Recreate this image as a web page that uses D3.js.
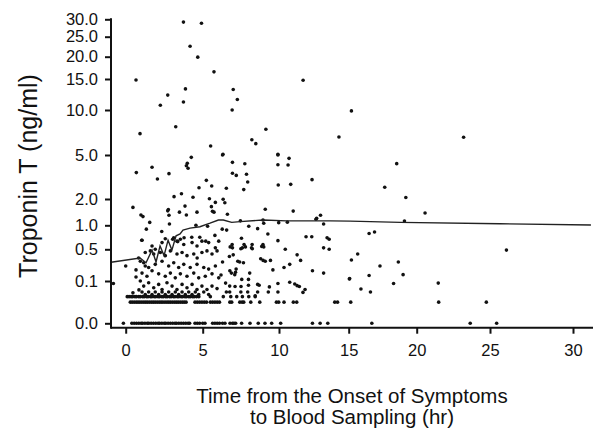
<!DOCTYPE html>
<html>
<head>
<meta charset="utf-8">
<script src="https://cdn.jsdelivr.net/npm/d3@7/dist/d3.min.js"></script>
<style>
  body { margin: 0; background: #fff; }
  svg { display: block; font-family: "Liberation Sans", Arial, Helvetica, sans-serif; }
  .tick text { font-size: 16.5px; fill: #111; }
  .tick line { stroke: #111; stroke-width: 2; }
  .axis-title { font-size: 20.5px; fill: #111; }
</style>
</head>
<body>
<div id="chart"></div>
<script>
// tick labels
var xTicks = [0, 5, 10, 15, 20, 25, 30];
var yTicks = [0, 0.1, 0.5, 1, 2, 5, 10, 15, 20, 25, 30];

// smoothed troponin curve: hours, ng/ml
var curveHours = [-0.95, 0.93, 1.32, 1.71, 1.97, 2.23, 2.49, 2.75, 3.0, 3.27, 3.53, 3.72, 4.18, 4.82, 5.48, 6.03, 6.35, 6.9, 7.45, 8.97, 10.55, 12.71, 13.7, 15.1, 18.8, 25.6, 31.08];
var curveTrop  = [0.336, 0.39, 0.33, 0.49, 0.34, 0.57, 0.42, 0.69, 0.49, 0.78, 0.82, 0.9, 0.94, 0.97, 1.08, 1.2, 1.2, 1.11, 1.14, 1.2, 1.17, 1.17, 1.17, 1.16, 1.11, 1.06, 1.01];

// scattered patients [hours, ng/ml]
var highPoints = [
  [3.75,29.2],[4.92,28.85],[4.18,22.6],[4.68,19.9],[5.74,16.6],[0.67,14.84],[11.73,14.8],[3.88,13.4],
  [7.0,13.3],[2.73,12.4],[7.27,11.7],[3.75,11.3],[2.25,10.76],[6.93,10.0],[15.2,9.9],[3.25,8.14],
  [0.93,7.37],[9.14,7.86],[14.3,7.0],[8.22,6.7],[8.48,6.26],[5.52,6.0],[6.33,5.08],[9.93,5.08],[23.2,6.97]
];
var midPoints = [
  [4.26,4.84],[4.0,4.43],[3.94,4.27],[4.05,4.1],[6.3,5.0],[6.95,4.5],[6.95,3.76],[1.71,4.16],[0.69,3.8],
  [2.06,3.36],[2.81,3.73],[5.24,3.27],[5.59,2.89],[4.76,2.77],[6.55,2.73],[3.62,2.36],[3.14,2.16],
  [4.37,2.12],[5.44,2.02],[5.83,1.87],[6.34,1.99],[6.45,1.86],[3.85,1.73],[5.57,1.71],[2.77,1.6],
  [2.73,1.55],[3.49,1.5],[4.63,1.5],[5.64,1.53],[5.74,1.5],[3.94,1.39],[6.62,1.42],[0.47,1.68],
  [0.99,1.39],[1.12,1.33],[1.56,1.11],[2.81,1.38],[2.84,1.05],[4.56,1.0],[5.32,0.98],
  [9.93,5.0],[10.72,4.77],[9.93,4.34],[10.65,4.32],[7.76,4.4],[7.2,3.61],[7.87,3.69],[7.95,3.16],
  [7.69,2.64],[9.95,2.95],[10.84,3.0],[12.37,3.32],[9.1,1.61],[11.02,1.54],[12.98,1.38],[12.7,1.27],
  [12.65,1.23],[13.2,1.05],[7.47,1.17],[8.95,1.2],[9.0,1.08],[9.98,1.1],[10.6,1.12],
  [18.53,4.41],[17.65,2.8],[19.2,2.1],[20.57,1.47],[19.1,1.16]
];
var lowPoints = [
  [1.34,0.92],[2.34,0.87],[1.04,0.69],[6.28,0.92],[6.57,0.9],[5.8,0.79],[4.29,0.75],[4.81,0.75],
  [5.2,0.67],[3.79,0.74],[3.38,0.66],[3.05,0.71],[8.02,0.98],[8.6,0.93],[9.27,0.82],[9.93,0.68],
  [7.54,0.73],[11.94,0.76],[12.35,0.76],[13.45,0.74],[13.6,0.71],[6.93,0.6],[7.71,0.6],[8.24,0.6],[8.95,0.6],
  [16.5,0.83],[16.9,0.86],[15.66,0.44],[15.2,0.365],[25.99,0.49],[17.3,0.29],[18.65,0.34],[15.05,0.125],
  [16.5,0.17],[19.0,0.18],[15.9,0.081],[16.6,0.074],[18.3,0.094],[21.47,0.095],
  [6.8,0.55],[6.95,0.53],[7.5,0.51],[7.6,0.53],[7.8,0.55],[8.2,0.53],[8.25,0.51],[8.87,0.56],[9.0,0.55],
  [10.45,0.5],[13.2,0.53],[13.6,0.5],[11.3,0.43],[11.55,0.36],[7.0,0.43],[6.75,0.41],[7.3,0.35],
  [7.42,0.34],[7.67,0.33],[8.8,0.38],[8.96,0.36],[9.1,0.35],[9.44,0.36],[10.77,0.31],[10.36,0.27],
  [9.6,0.24],[12.4,0.23],[13.2,0.2],[15.07,0.13],[6.78,0.23],[6.88,0.2],[7.1,0.18],[7.19,0.25],
  [7.15,0.21],[7.56,0.12],[8.0,0.12],[8.08,0.2],[6.77,0.088],[7.12,0.087],[7.51,0.087],[8.0,0.09],
  [8.6,0.092],[8.7,0.09],[9.37,0.086],[9.93,0.094],[10.77,0.097],[11.13,0.093],[11.3,0.089],
  [11.46,0.087],[11.87,0.08],[11.72,0.073],[6.77,0.074],[7.5,0.074],[7.95,0.074],[8.6,0.074],
  [9.3,0.074],[9.93,0.074],[8.44,0.065],[6.3,0.34],[6.5,0.095],[6.2,0.175],[6.55,0.074],
  [-0.8,0.094],[0,0.29],[0.84,0.39],[0.67,0.24],[0.86,0.079],[0.47,0.072],[0.67,0.15]
];
var clusterPoints = [
  [1.06,0.69],[1.71,0.57],[1.92,0.5],[2.36,0.64],[2.57,0.72],[3.12,0.74],[3.33,0.67],[3.55,0.71],
  [3.77,0.6],[4.31,0.64],[4.63,0.57],[4.95,0.67],[5.39,0.64],[5.83,0.53],[6.05,0.67],
  [1.27,0.46],[1.6,0.48],[1.82,0.44],[2.25,0.46],[2.57,0.42],[2.9,0.48],[3.33,0.44],[3.66,0.46],
  [3.98,0.42],[4.42,0.44],[4.64,0.39],[4.95,0.46],[5.28,0.48],[5.61,0.44],[5.94,0.48],
  [0.95,0.35],[1.17,0.33],[1.27,0.29],[1.49,0.27],[1.92,0.31],[2.36,0.35],[2.79,0.29],[3.12,0.33],
  [3.44,0.27],[3.77,0.31],[4.19,0.27],[4.63,0.31],[5.07,0.27],[5.39,0.25],[5.83,0.29],
  [1.06,0.2],[1.38,0.16],[1.71,0.23],[2.14,0.19],[2.57,0.16],[2.9,0.2],[3.22,0.14],[3.55,0.19],
  [3.98,0.16],[4.42,0.2],[4.74,0.14],[5.17,0.16],[5.61,0.19],[6.05,0.14],
  [0.95,0.1],[1.17,0.088],[1.49,0.096],[1.82,0.084],[2.14,0.092],[2.36,0.08],[2.68,0.096],[3.01,0.088],
  [3.33,0.08],[3.66,0.092],[3.98,0.084],[4.31,0.092],[4.63,0.08],[4.95,0.088],[5.28,0.08],[5.61,0.088],[5.94,0.082],
  [1.06,0.074],[1.27,0.068],[1.49,0.074],[1.71,0.068],[1.92,0.074],[2.14,0.068],[2.36,0.074],[2.57,0.068],
  [2.79,0.074],[3.01,0.068],[3.22,0.074],[3.44,0.068],[3.66,0.074],[3.87,0.068],[4.09,0.074],[4.31,0.068],
  [4.52,0.074],[4.74,0.068],[5.07,0.074],[5.39,0.068]
];

// reporting floors: each row is hours at a fixed level
var rowLevels = [0, 0.05, 0.063];
var rowZeroHours = [-0.15, 0.4, 0.55, 0.7, 0.85, 1.0, 1.1, 1.25, 1.4, 1.5, 1.65, 1.8, 1.95, 2.1, 2.2, 2.35, 2.5, 2.6,
  2.75, 2.9, 3.05, 3.2, 3.3, 3.45, 3.6, 3.75, 3.9, 4.05, 4.15, 4.5, 4.65, 4.8, 5.0, 5.15, 5.65, 5.8, 5.95, 6.1,
  6.3, 6.46, 6.79, 6.95, 7.05, 7.16, 7.55, 8.1, 8.64, 9.08, 9.52, 10.12, 12.4, 12.95, 13.5, 16.7, 23.65, 25.4];
var rowFiveHours = [0.3, 0.42, 0.55, 0.68, 0.8, 0.92, 1.05, 1.18, 1.3, 1.42, 1.55, 1.68, 1.8, 1.92, 2.05, 2.18,
  2.3, 2.42, 2.55, 2.68, 2.8, 2.92, 3.05, 3.18, 3.3, 3.42, 3.55, 3.68, 3.8, 3.92, 4.5, 4.65, 4.8, 4.95, 5.1,
  5.25, 5.5, 5.65, 5.8, 5.95, 6.1, 6.78, 6.9, 7.43, 7.58, 7.69, 8.15, 8.74, 9.83, 9.98, 10.36, 11.03, 11.27,
  14.0, 14.2, 15.15, 21.5, 24.75];
var rowSixHours = [0.1, 0.22, 0.35, 0.45, 0.6, 0.7, 0.85, 0.95, 1.1, 1.2, 1.35, 1.45, 1.6, 1.7, 1.85, 1.95, 2.1,
  2.2, 2.35, 2.45, 2.6, 2.7, 2.85, 2.95, 3.1, 3.2, 3.35, 3.45, 3.6, 3.7, 3.85, 3.95, 4.1, 4.2, 4.35, 4.45, 4.6,
  4.75, 5.5, 6.35, 6.84, 7.23, 7.6, 8.02, 8.44];

var width = 596, height = 429;
var axisLeftX = 111, axisBottomY = 327.7, axisRightX = 593;

var svg = d3.select('#chart').append('svg')
  .attr('width', width)
  .attr('height', height);

// the scanned axes are not evenly spaced, so the scales follow each tick
var x = d3.scaleLinear()
  .domain(xTicks)
  .range([125.7, 202.7, 279, 348.7, 416.7, 490, 573]);

var y = d3.scaleLinear()
  .domain(yTicks)
  .range([323.3, 281, 249.3, 225.3, 199, 155, 110, 79, 56.7, 36.7, 19.3]);

var points = highPoints.concat(midPoints, lowPoints, clusterPoints);
rowZeroHours.forEach(function(h) { points.push([h, rowLevels[0]]); });
rowFiveHours.forEach(function(h) { points.push([h, rowLevels[1]]); });
rowSixHours.forEach(function(h) { points.push([h, rowLevels[2]]); });

svg.append('g')
  .attr('class', 'dots')
  .selectAll('circle')
  .data(points)
  .enter().append('circle')
    .attr('cx', function(d) { return x(d[0]); })
    .attr('cy', function(d) { return y(d[1]); })
    .attr('r', 1.8)
    .attr('fill', '#111');

var line = d3.line()
  .x(function(d, i) { return x(curveHours[i]); })
  .y(function(d, i) { return y(curveTrop[i]); });

svg.append('path')
  .datum(curveHours)
  .attr('d', line)
  .attr('fill', 'none')
  .attr('stroke', '#222')
  .attr('stroke-width', 1.4);

var yAxis = d3.axisLeft(y)
  .tickValues(yTicks)
  .tickFormat(d3.format('.1f'))
  .tickSize(6)
  .tickPadding(7);

var xAxis = d3.axisBottom(x)
  .tickValues(xTicks)
  .tickFormat(d3.format('d'))
  .tickSize(6)
  .tickPadding(11);

svg.append('g')
  .attr('transform', 'translate(' + axisLeftX + ',0)')
  .call(yAxis)
  .call(function(g) { g.select('.domain').remove(); });

svg.append('g')
  .attr('transform', 'translate(0,' + axisBottomY + ')')
  .call(xAxis)
  .call(function(g) { g.select('.domain').remove(); });

// axis lines
svg.append('line')
  .attr('x1', axisLeftX).attr('x2', axisLeftX)
  .attr('y1', y(30) - 1).attr('y2', axisBottomY + 1)
  .attr('stroke', '#111').attr('stroke-width', 2);

svg.append('line')
  .attr('x1', axisLeftX).attr('x2', axisRightX)
  .attr('y1', axisBottomY).attr('y2', axisBottomY)
  .attr('stroke', '#111').attr('stroke-width', 2);

svg.append('text')
  .attr('class', 'axis-title')
  .attr('transform', 'translate(37,176) rotate(-90)')
  .attr('text-anchor', 'middle')
  .style('font-size', '25px')
  .text('Troponin T (ng/ml)');

svg.append('text')
  .attr('class', 'axis-title')
  .attr('x', 352).attr('y', 403)
  .attr('text-anchor', 'middle')
  .text('Time from the Onset of Symptoms');

svg.append('text')
  .attr('class', 'axis-title')
  .attr('x', 352).attr('y', 424)
  .attr('text-anchor', 'middle')
  .text('to Blood Sampling (hr)');
</script>
</body>
</html>
